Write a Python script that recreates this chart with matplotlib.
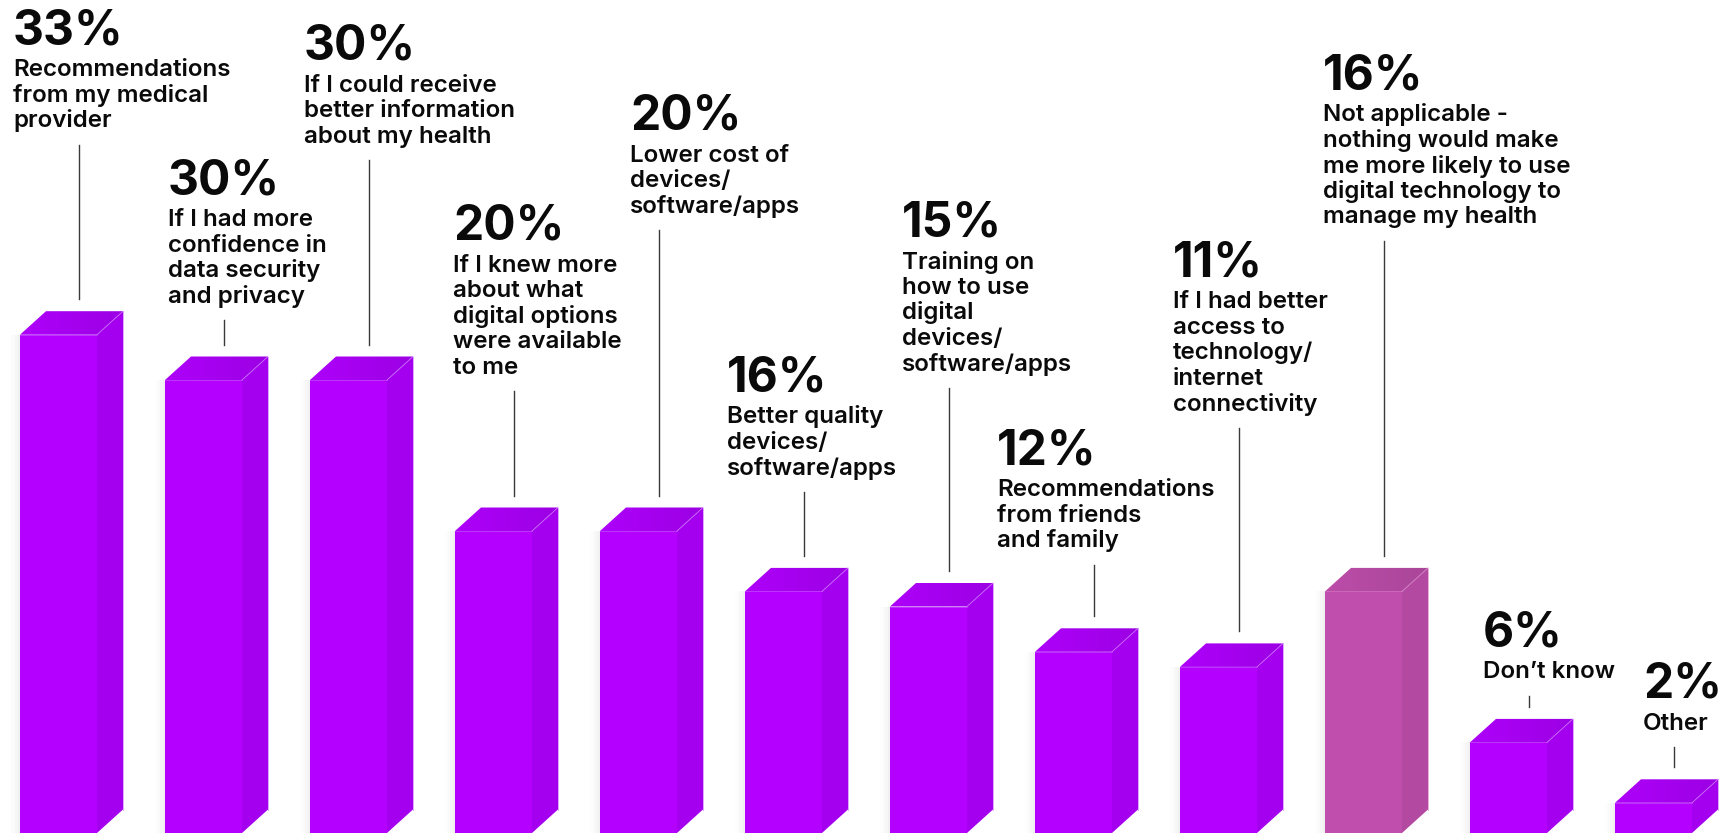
import matplotlib
matplotlib.use("Agg")
import matplotlib.pyplot as plt
from matplotlib.patches import Polygon
from matplotlib.lines import Line2D
from matplotlib.transforms import Affine2D
from matplotlib.colors import LinearSegmentedColormap
import numpy as np

# ---------------- data ----------------
percent = [33, 30, 30, 20, 20, 16, 15, 12, 11, 16, 6, 2]
labels = [
    "Recommendations\nfrom my medical\nprovider",
    "If I had more\nconfidence in\ndata security\nand privacy",
    "If I could receive\nbetter information\nabout my health",
    "If I knew more\nabout what\ndigital options\nwere available\nto me",
    "Lower cost of\ndevices/\nsoftware/apps",
    "Better quality\ndevices/\nsoftware/apps",
    "Training on\nhow to use\ndigital\ndevices/\nsoftware/apps",
    "Recommendations\nfrom friends\nand family",
    "If I had better\naccess to\ntechnology/\ninternet\nconnectivity",
    "Not applicable -\nnothing would make\nme more likely to use\ndigital technology to\nmanage my health",
    "Don\u2019t know",
    "Other",
]
is_not_applicable = [False] * 9 + [True] + [False, False]

# ---------------- layout (pixels, measured from the top-left corner) ----------------
W, H, DPI = 1726, 835, 100
label_left = [13, 168, 304, 453, 630, 727, 902, 997, 1173, 1323, 1483, 1643]
label_top = [10, 160, 25, 205, 95, 357, 202, 430, 242, 55, 612, 663]

BAR_W_PX = 77        # front face width
PITCH_PX = 145       # distance between bars
DEPTH_X, DEPTH_Y = 26, 23.5
PX_PER_PCT = 15.1
BASE_FROM_TOP = 833  # baseline of the bars, pixels from top
FIRST_CENTER = 20 + BAR_W_PX / 2

PCT_SIZE = 34.5      # pt
DESC_SIZE = 17.4     # pt
DESC_CAP_OFFSET = 50   # pct cap top -> description cap top
DESC_CAP = 16.5
LINE_STEP = 25.5
STEM_GAP_TEXT = 17
STEM_GAP_BAR = 12

PURPLE = dict(front="#B400FF", side="#A400EF", top_l="#AE00FA", top_r="#9C00E4", edge="#CF7BFF")
PINK = dict(front="#C04EAC", side="#B449A2", top_l="#BC4DA9", top_r="#AA4699", edge="#D98BCB")

FONT = ["Inter", "DejaVu Sans"]

fig = plt.figure(figsize=(W / DPI, H / DPI), dpi=DPI)
fig.patch.set_facecolor("white")
ax = fig.add_axes([0, 0, 1, 1])
ax.set_axis_off()

x_lo = -FIRST_CENTER / PITCH_PX
x_hi = (W - FIRST_CENTER) / PITCH_PX
y_lo = -(H - BASE_FROM_TOP) / PX_PER_PCT
y_hi = BASE_FROM_TOP / PX_PER_PCT
ax.set_xlim(x_lo, x_hi)
ax.set_ylim(y_lo, y_hi)

# depth and width expressed in data units
half_w = BAR_W_PX / PITCH_PX / 2
ddx = DEPTH_X / PITCH_PX
ddy = DEPTH_Y / PX_PER_PCT

# pixel transform with origin at top-left
pix = Affine2D().scale(1, -1).translate(0, H)


def to_top_px(x, y):
    """data -> pixels measured from the top-left corner"""
    dx, dy = ax.transData.transform((x, y))
    return dx, H - dy


for i, (v, txt, na) in enumerate(zip(percent, labels, is_not_applicable)):
    c = PINK if na else PURPLE
    xl, xr = i - half_w, i + half_w

    # soft shadow on the left of the column
    for k, a in enumerate([0.018, 0.014, 0.010, 0.006]):
        ax.add_patch(Polygon([(xl - (k + 1) * 2.5 / PITCH_PX, 0), (xl, 0), (xl, v), (xl - (k + 1) * 2.5 / PITCH_PX, v)],
                             closed=True, facecolor="black", edgecolor="none", alpha=a, zorder=1))

    # front face
    ax.add_patch(Polygon([(xl, 0), (xr, 0), (xr, v), (xl, v)], closed=True,
                         facecolor=c["front"], edgecolor="none", zorder=3))
    # right side face
    ax.add_patch(Polygon([(xr, 0), (xr + ddx, ddy), (xr + ddx, v + ddy), (xr, v)], closed=True,
                         facecolor=c["side"], edgecolor="none", zorder=3))
    # top face with a gentle left-to-right gradient
    top_poly = Polygon([(xl, v), (xl + ddx, v + ddy), (xr + ddx, v + ddy), (xr, v)], closed=True,
                       facecolor="none", edgecolor="none", zorder=4)
    ax.add_patch(top_poly)
    cmap = LinearSegmentedColormap.from_list("topface", [c["top_l"], c["top_r"]])
    grad = np.linspace(0, 1, 64).reshape(1, -1)
    im = ax.imshow(grad, extent=[xl, xr + ddx, v, v + ddy], cmap=cmap, aspect="auto",
                   interpolation="bilinear", zorder=4, origin="lower")
    im.set_clip_path(top_poly)
    # light edges
    ax.plot([xr, xr + ddx], [v, v + ddy], color=c["edge"], lw=0.6, zorder=5, alpha=0.8)
    ax.plot([xl, xr], [v, v], color=c["edge"], lw=0.5, zorder=5, alpha=0.6)
    ax.plot([xr + ddx, xr + ddx], [ddy, v + ddy], color=c["edge"], lw=0.6, zorder=5, alpha=0.8)

    # labels
    left, top = label_left[i], label_top[i]
    fig.text(left, top + 0.727 * PCT_SIZE * DPI / 72, f"{v}%", transform=pix,
             fontsize=PCT_SIZE, fontweight="bold", family=FONT, color="#0a0a0a",
             ha="left", va="baseline")
    lines = txt.split("\n")
    first_base = top + DESC_CAP_OFFSET + DESC_CAP
    for k, line in enumerate(lines):
        fig.text(left, first_base + k * LINE_STEP, line, transform=pix,
                 fontsize=DESC_SIZE, fontweight="semibold", family=FONT, color="#0a0a0a",
                 ha="left", va="baseline")

    # leader line from the label to the column
    stem_top = first_base + (len(lines) - 1) * LINE_STEP + STEM_GAP_TEXT
    sx, back_top = to_top_px(i + 20 / PITCH_PX, v + ddy)
    stem_bottom = back_top - STEM_GAP_BAR
    fig.add_artist(Line2D([sx, sx], [stem_top, stem_bottom], transform=pix,
                          color="#3a3a3a", lw=1.0))

ax.set_xlim(x_lo, x_hi)
ax.set_ylim(y_lo, y_hi)

fig.savefig("out.png", dpi=DPI, facecolor="white")
